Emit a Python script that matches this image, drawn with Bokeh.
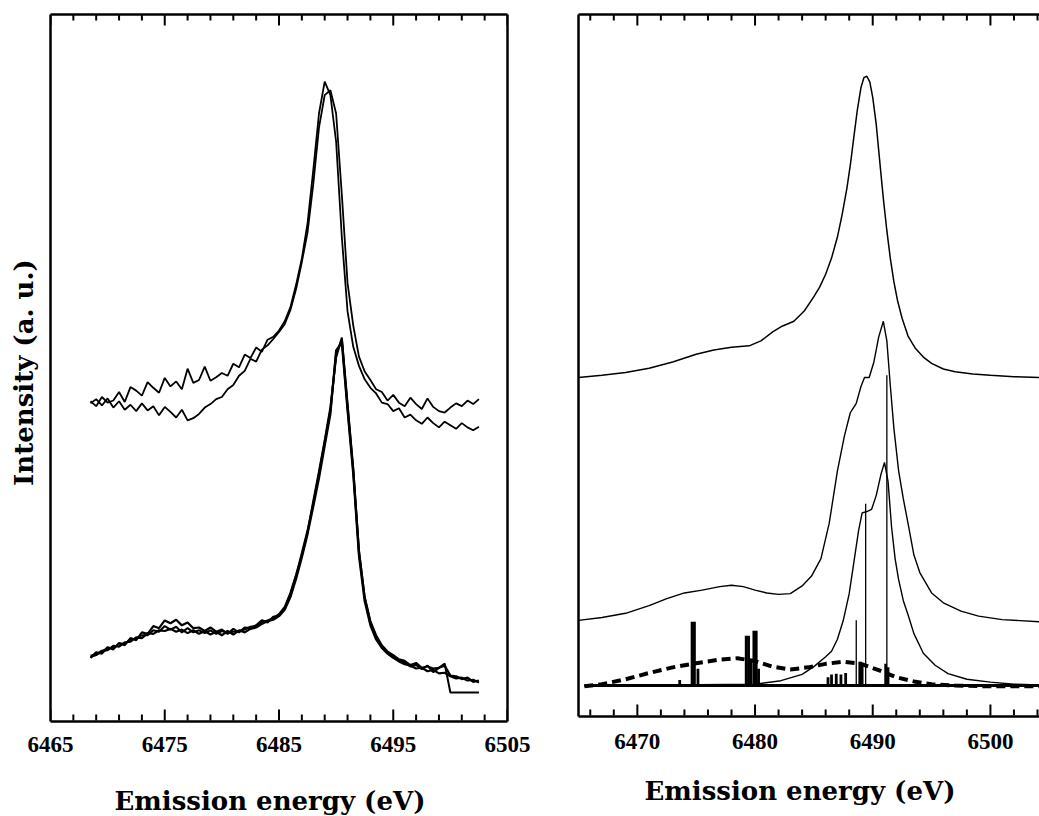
from bokeh.plotting import figure
from bokeh.layouts import row
from bokeh.models import FixedTicker, Range1d, LinearAxis
from bokeh.embed import file_html
from bokeh.resources import INLINE

# ---------------- data: left panel (measured spectra) ----------------
LX = [6468.5, 6469.0, 6469.5, 6470.0, 6470.5, 6471.0, 6471.5, 6472.0, 6472.5, 6473.0,
      6473.5, 6474.0, 6474.5, 6475.0, 6475.5, 6476.0, 6476.5, 6477.0, 6477.5, 6478.0,
      6478.5, 6479.0, 6479.5, 6480.0, 6480.5, 6481.0, 6481.5, 6482.0, 6482.5, 6483.0,
      6483.5, 6484.0, 6484.5, 6485.0, 6485.5, 6486.0, 6486.5, 6487.0, 6487.5, 6488.0,
      6488.5, 6489.0, 6489.5, 6490.0, 6490.5, 6491.0, 6491.5, 6492.0, 6492.5, 6493.0,
      6493.5, 6494.0, 6494.5, 6495.0, 6495.5, 6496.0, 6496.5, 6497.0, 6497.5, 6498.0,
      6498.5, 6499.0, 6499.5, 6500.0, 6500.5, 6501.0, 6501.5, 6502.0, 6502.5]

U1 = [45.3, 44.6, 45.9, 45.1, 45.4, 46.6, 45.2, 47.3, 46.8, 46.1,
      48.0, 47.2, 46.5, 48.6, 47.4, 48.1, 47.0, 49.9, 47.9, 48.3,
      50.2, 48.2, 48.7, 49.3, 48.9, 50.6, 50.1, 51.9, 51.4, 52.9,
      52.3, 54.0, 54.4, 55.3, 56.6, 58.6, 61.8, 65.5, 70.5, 78.0,
      86.0, 90.5, 88.6, 82.0, 68.5, 58.0, 53.0, 50.3, 48.4, 47.2,
      46.4, 45.1, 44.9, 43.9, 44.3, 43.0, 43.4, 42.6, 42.1, 43.0,
      42.2, 41.6, 42.4, 41.9, 41.4, 42.2, 41.6, 41.2, 41.7]

U2 = [45.0, 45.6, 44.7, 45.7, 44.4, 45.3, 44.1, 44.8, 43.9, 45.0,
      44.0, 44.6, 43.3, 44.5, 43.8, 43.0, 44.1, 42.6, 42.9, 43.5,
      44.4, 44.9, 45.6, 45.9, 47.0, 47.6, 48.9, 49.6, 51.3, 50.9,
      52.6, 53.2, 54.1, 55.1, 56.2, 58.2, 61.2, 65.0, 69.2, 76.0,
      84.0, 88.6, 89.3, 86.0, 74.5, 62.0, 56.0, 51.6, 49.5, 48.3,
      47.0, 46.6, 45.4, 46.2, 45.1, 44.6, 45.8, 44.9, 44.2, 45.7,
      44.5, 43.9, 43.7, 44.4, 45.0, 44.6, 45.4, 44.9, 45.6]

L1 = [9.0, 9.8, 9.6, 10.5, 10.2, 11.1, 10.8, 11.8, 11.5, 12.6,
      12.4, 13.5, 13.2, 14.3, 13.9, 14.4, 13.6, 14.0, 13.2, 13.3,
      12.8, 13.3, 12.7, 13.0, 12.4, 13.1, 12.6, 13.3, 13.2, 13.6,
      14.3, 14.0, 14.8, 15.0, 16.0, 18.0, 20.6, 23.8, 27.0, 30.8,
      35.0, 39.5, 44.0, 52.0, 54.0, 44.5, 35.5, 24.0, 17.5, 14.0,
      12.0, 10.6, 9.8, 9.2, 8.6, 8.4, 7.8, 8.0, 7.4, 7.9,
      7.0, 7.6, 7.9, 6.5, 6.4, 6.0, 6.2, 5.6, 5.8]

L2 = [9.3, 9.5, 10.0, 10.1, 10.7, 10.6, 11.2, 11.3, 11.9, 11.8,
      12.5, 12.4, 12.9, 12.8, 13.1, 12.7, 13.0, 12.5, 12.9, 12.4,
      12.8, 12.3, 12.7, 12.2, 12.8, 12.3, 12.9, 12.6, 13.1, 13.3,
      13.8, 14.2, 14.4, 14.9, 15.8, 17.6, 20.2, 23.2, 26.5, 30.4,
      34.4, 39.0, 43.5, 52.5, 53.6, 44.0, 35.0, 23.4, 17.0, 13.6,
      11.6, 10.4, 9.6, 9.0, 8.5, 8.1, 7.9, 7.5, 7.6, 7.1,
      7.3, 6.8, 6.9, 6.4, 6.1, 6.2, 5.8, 5.9, 5.5]

L3 = [9.1, 9.4, 9.9, 10.4, 10.4, 11.0, 11.0, 11.6, 11.7, 12.2,
      12.2, 12.9, 12.7, 13.5, 13.0, 13.4, 12.6, 13.2, 12.6, 12.9,
      12.5, 12.9, 12.4, 12.8, 12.6, 12.7, 12.8, 13.0, 13.4, 13.5,
      14.0, 14.3, 14.6, 15.2, 16.2, 18.2, 20.8, 23.5, 26.8, 31.2,
      35.4, 39.8, 44.5, 51.5, 54.3, 45.0, 35.8, 24.2, 17.6, 14.2,
      12.2, 10.8, 9.9, 9.4, 8.8, 8.6, 8.0, 8.3, 7.6, 7.8,
      7.5, 7.6, 8.2, 4.1, 4.1, 4.1, 4.1, 4.1, 4.1]

# ---------------- data: right panel (calculated spectra) ----------------
R1_X = [6465.0, 6467.0, 6469.0, 6471.0, 6473.0, 6475.0, 6476.5, 6478.0, 6479.5, 6480.5,
        6481.5, 6482.3, 6483.3, 6484.2, 6485.0, 6485.5, 6486.0, 6486.5, 6487.0, 6487.4,
        6487.8, 6488.1, 6488.4, 6488.7, 6489.0, 6489.25, 6489.5, 6489.75, 6490.0, 6490.3,
        6490.6, 6490.9, 6491.2, 6491.5, 6491.8, 6492.1, 6492.5, 6493.0, 6493.6, 6494.3,
        6495.0, 6496.0, 6497.0, 6498.5, 6500.0, 6502.0, 6504.2]
R1_Y = [48.3, 48.6, 49.0, 49.6, 50.5, 51.6, 52.2, 52.6, 52.8, 53.5,
        54.8, 55.6, 56.3, 57.8, 59.8, 61.2, 63.0, 65.3, 68.3, 71.5,
        75.2, 78.6, 82.6, 86.5, 89.6, 91.0, 91.2, 90.4, 88.2, 84.3,
        79.0, 73.8, 69.2, 65.2, 61.9, 59.3, 56.7, 54.2, 52.5, 51.2,
        50.3, 49.5, 49.1, 48.8, 48.6, 48.4, 48.3]

R2_X = [6465.0, 6467.0, 6469.0, 6471.0, 6472.5, 6474.0, 6475.5, 6477.0, 6478.0, 6479.0,
        6480.0, 6481.0, 6482.0, 6483.0, 6484.0, 6484.8, 6485.6, 6486.3, 6487.0, 6487.6,
        6488.1, 6488.6, 6489.0, 6489.3, 6489.7, 6490.1, 6490.5, 6490.9, 6491.2, 6491.5,
        6491.8, 6492.2, 6492.6, 6493.0, 6493.5, 6494.0, 6495.0, 6496.0, 6497.5, 6499.0,
        6501.0, 6504.2]
R2_Y = [13.7, 14.1, 14.7, 15.8, 16.8, 17.6, 18.0, 18.5, 18.7, 18.5,
        18.0, 17.6, 17.4, 17.5, 18.6, 20.0, 22.5, 27.5, 35.0, 40.0,
        43.3, 44.6, 47.0, 48.3, 48.3, 50.5, 54.0, 56.3, 53.5, 47.0,
        41.0, 35.0, 31.0, 27.5, 23.0, 20.5, 17.6, 16.2, 15.0, 14.3,
        13.8, 13.5]

R3_X = [6465.5, 6480.0, 6482.2, 6484.0, 6485.0, 6486.0, 6486.5, 6487.0, 6487.5, 6488.0,
        6488.4, 6488.8, 6489.1, 6489.5, 6489.9, 6490.3, 6490.7, 6491.0, 6491.3, 6491.6,
        6491.9, 6492.2, 6492.6, 6493.0, 6493.5, 6494.3, 6495.3, 6496.4, 6498.0, 6500.0,
        6502.0, 6504.2]
R3_Y = [4.4, 4.6, 5.1, 6.0, 7.1, 8.5, 9.3, 11.0, 13.7, 17.5,
        22.0, 26.5, 29.0, 29.2, 29.5, 31.5, 34.5, 36.2, 33.5, 27.0,
        22.5, 19.5, 16.5, 14.5, 11.8, 9.0, 7.3, 6.1, 5.3, 4.9,
        4.6, 4.5]

D_X = [6465.5, 6467.0, 6469.0, 6471.0, 6473.0, 6475.0, 6477.0, 6478.5, 6480.0, 6481.5,
       6483.0, 6484.5, 6486.0, 6487.5, 6489.0, 6490.5, 6492.0, 6493.5, 6495.0, 6497.0,
       6500.0, 6504.2]
D_Y = [4.3, 4.6, 5.3, 6.2, 7.0, 7.6, 8.1, 8.3, 7.9, 7.1,
       6.7, 7.0, 7.5, 7.8, 7.5, 6.6, 5.6, 5.0, 4.6, 4.4,
       4.3, 4.3]

BASE_X = [6465.5, 6504.2]
BASE_Y = [4.4, 4.4]

# multiplet sticks (energy, top); all start from the baseline level
THICK_E = [6473.6, 6474.65, 6474.85, 6475.15, 6479.25, 6479.45, 6479.65, 6479.9, 6480.1,
           6480.3, 6486.2, 6486.5, 6486.9, 6487.3, 6487.7, 6488.9, 6489.1, 6491.1, 6491.3]
THICK_H = [5.2, 13.5, 13.5, 6.8, 11.5, 11.5, 8.0, 12.2, 12.2,
           6.8, 5.6, 6.0, 6.1, 6.0, 6.2, 7.8, 7.5, 7.5, 7.0]
THIN_E = [6488.6, 6489.4, 6491.2]
THIN_H = [13.7, 30.3, 48.6]
STICK_BASE = 4.4

# ---------------- ticks / labels ----------------
L_MAJOR = [6465, 6475, 6485, 6495, 6505]
L_MINOR = [6467, 6469, 6471, 6473, 6477, 6479, 6481, 6483, 6487, 6489, 6491, 6493,
           6497, 6499, 6501, 6503]
R_MAJOR = [6470, 6480, 6490, 6500]
R_MINOR = [6466, 6468, 6472, 6474, 6476, 6478, 6482, 6484, 6486, 6488, 6492, 6494,
           6496, 6498, 6502, 6504]
X_TITLE = "Emission  energy  (eV)"
Y_TITLE = "Intensity  (a. u.)"

TICK_FONT = "Liberation Serif"
TITLE_FONT = "DejaVu Serif"
FRAME_W = 2.5
MAJOR_LEN = 11   # px
MINOR_LEN = 6    # px
Y_TOP = 100


def style_bottom(ax, major):
    ax.ticker = FixedTicker(ticks=major, minor_ticks=[])
    ax.major_tick_in = 0
    ax.major_tick_out = 0
    ax.minor_tick_in = 0
    ax.minor_tick_out = 0
    ax.axis_line_width = FRAME_W
    ax.axis_line_color = "black"
    ax.major_label_text_font = TICK_FONT
    ax.major_label_text_font_style = "bold"
    ax.major_label_text_font_size = "23px"
    ax.major_label_text_color = "black"
    ax.axis_label = X_TITLE
    ax.axis_label_text_font = TITLE_FONT
    ax.axis_label_text_font_style = "bold"
    ax.axis_label_text_font_size = "26px"
    ax.axis_label_text_color = "black"


def plain_axis(ax):
    ax.ticker = FixedTicker(ticks=[])
    ax.major_tick_in = 0
    ax.major_tick_out = 0
    ax.minor_tick_in = 0
    ax.minor_tick_out = 0
    ax.axis_line_width = FRAME_W
    ax.axis_line_color = "black"


def frame_ticks(p, frame_h, major, minor):
    # inward tick marks on the bottom and top edges of the frame
    k = Y_TOP / frame_h
    xs, ys = [], []
    for ticks, ln in ((major, MAJOR_LEN), (minor, MINOR_LEN)):
        for t in ticks:
            xs.append([t, t])
            ys.append([1.0 * k, (ln + 1.0) * k])
            xs.append([t, t])
            ys.append([Y_TOP, Y_TOP - ln * k])
    p.multi_line(xs=xs, ys=ys, line_color="black", line_width=2)
    ax = LinearAxis()
    plain_axis(ax)
    p.add_layout(ax, "above")


# ---------------- left figure ----------------
p1 = figure(frame_width=457, frame_height=707, output_backend="svg", toolbar_location=None,
            x_range=Range1d(6465, 6505), y_range=Range1d(0, Y_TOP),
            min_border_left=50, min_border_right=33, min_border_top=14, min_border_bottom=95)
p1.outline_line_color = None
p1.grid.visible = False
p1.background_fill_color = "white"
p1.border_fill_color = "white"
style_bottom(p1.xaxis[0], L_MAJOR)
p1.xaxis[0].major_label_standoff = 15
p1.xaxis[0].axis_label_standoff = 31
plain_axis(p1.yaxis[0])
p1.yaxis[0].axis_label = Y_TITLE
p1.yaxis[0].axis_label_text_font = TITLE_FONT
p1.yaxis[0].axis_label_text_font_style = "bold"
p1.yaxis[0].axis_label_text_font_size = "26px"
p1.yaxis[0].axis_label_text_color = "black"
p1.yaxis[0].axis_label_standoff = 12
frame_ticks(p1, 707, L_MAJOR, L_MINOR)
rax = LinearAxis()
plain_axis(rax)
p1.add_layout(rax, "right")

p1.line(LX, U1, line_color="black", line_width=1.8)
p1.line(LX, U2, line_color="black", line_width=1.8)
p1.line(LX, L1, line_color="black", line_width=2.2)
p1.line(LX, L2, line_color="black", line_width=2.2)
p1.line(LX, L3, line_color="black", line_width=2.0)

# ---------------- right figure ----------------
p2 = figure(frame_width=461, frame_height=702, output_backend="svg", toolbar_location=None,
            x_range=Range1d(6465, 6504.17), y_range=Range1d(0, Y_TOP),
            min_border_left=38, min_border_right=0, min_border_top=11, min_border_bottom=103)
p2.outline_line_color = None
p2.grid.visible = False
p2.background_fill_color = "white"
p2.border_fill_color = "white"
style_bottom(p2.xaxis[0], R_MAJOR)
p2.xaxis[0].major_label_standoff = 17
p2.xaxis[0].axis_label_standoff = 24
plain_axis(p2.yaxis[0])
frame_ticks(p2, 702, R_MAJOR, R_MINOR)

p2.line(R1_X, R1_Y, line_color="black", line_width=1.5)
p2.line(R2_X, R2_Y, line_color="black", line_width=1.4)
p2.line(R3_X, R3_Y, line_color="black", line_width=1.4)
p2.line(D_X, D_Y, line_color="black", line_width=4, line_dash="9 5")
p2.line(BASE_X, BASE_Y, line_color="black", line_width=3)
p2.segment(x0=THICK_E, y0=[STICK_BASE] * len(THICK_E), x1=THICK_E, y1=THICK_H,
           line_color="black", line_width=2.8)
p2.segment(x0=THIN_E, y0=[STICK_BASE] * len(THIN_E), x1=THIN_E, y1=THIN_H,
           line_color="black", line_width=1.3)

layout = row(p1, p2)
open("out.html", "w").write(file_html(layout, INLINE))
